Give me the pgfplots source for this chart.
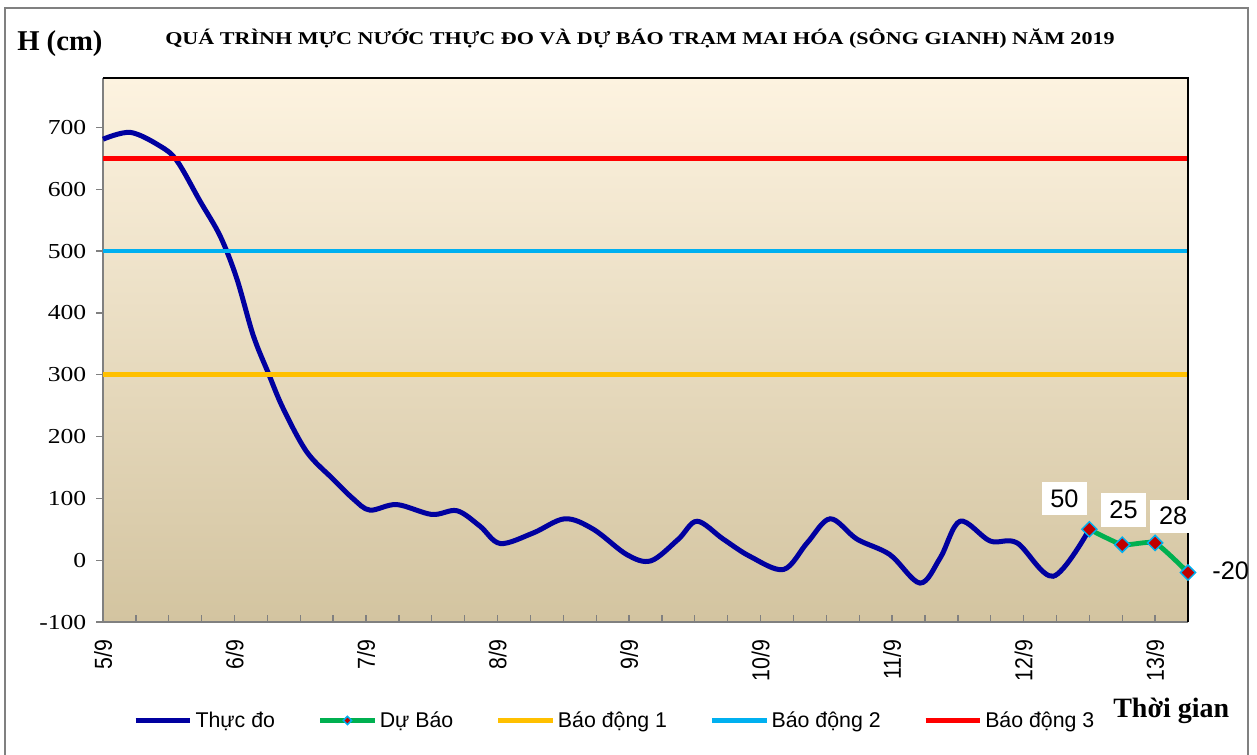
\documentclass[border=0pt]{standalone}
\usepackage{fontspec}
\setmainfont{Liberation Serif}
\newfontfamily\arial{Liberation Sans}
\usepackage{graphicx}
\usepackage{pgfplots}
\pgfplotsset{compat=1.18}
\definecolor{obs}{RGB}{0,0,160}
\definecolor{fc}{RGB}{0,176,80}
\definecolor{bdone}{RGB}{255,192,0}
\definecolor{bdtwo}{RGB}{0,176,240}
\definecolor{bdthree}{RGB}{255,0,0}
\definecolor{mk}{RGB}{192,0,0}
\definecolor{bgtop}{RGB}{253,243,224}
\definecolor{bgbot}{RGB}{211,196,160}
\definecolor{framegray}{RGB}{128,128,128}
\newcommand\yl[1]{\scalebox{1.2}[1]{#1}}
\newcommand\xl[1]{\scalebox{1}[1.15]{#1}}
\pgfplotsset{
  linelegend/.style={legend image code/.code={\draw[##1,mark=none] (0pt,0pt) -- (41pt,0pt);}},
  fclegend/.style={legend image code/.code={\draw[##1,mark=none] (0pt,0pt) -- (41pt,0pt); \draw[##1,mark size=2.2pt] plot coordinates {(20.5pt,0pt)};}},
}
\begin{document}
\begin{tikzpicture}
\useasboundingbox (0,0) rectangle (942.75pt,-565.5pt);
\draw[framegray, line width=1.2pt] (3.75pt,-620pt) -- (3.75pt,-6pt) -- (936pt,-6pt) -- (936pt,-620pt);
\node[anchor=base, font=\bfseries\fontsize{13.5}{14}\selectfont] at (480pt,-33pt)
  {\resizebox{712pt}{\height}{QUÁ TRÌNH MỰC NƯỚC THỰC ĐO VÀ DỰ BÁO TRẠM MAI HÓA (SÔNG GIANH) NĂM 2019}};
\node[anchor=base west, inner sep=0pt, font=\bfseries\fontsize{21.5}{22}\selectfont] at (12.75pt,-37.5pt) {H (cm)};
\node[anchor=base west, inner sep=0pt, font=\bfseries\fontsize{21}{22}\selectfont] at (834.75pt,-537.75pt) {Thời gian};
\begin{axis}[
  at={(77.25pt,-466.5pt)}, anchor=south west,
  scale only axis, width=813.75pt, height=408pt,
  xmin=0, xmax=198, ymin=-100, ymax=780,
  clip=false,
  axis x line*=bottom, axis y line*=left,
  axis line style={draw=framegray, line width=1.3pt, -},
  axis background/.style={top color=bgtop, bottom color=bgbot},
  xtick={0,24,...,192},
  xticklabels={\xl{5/9},\xl{6/9},\xl{7/9},\xl{8/9},\xl{9/9},\xl{10/9},\xl{11/9},\xl{12/9},\xl{13/9}},
  minor x tick num=3,
  xtick align=inside, ytick align=outside,
  major tick length=5pt, minor tick length=5pt,
  tick style={draw=framegray, line width=1pt},
  ytick={-100,0,100,200,300,400,500,600,700},
  yticklabels={\yl{-100},\yl{0},\yl{100},\yl{200},\yl{300},\yl{400},\yl{500},\yl{600},\yl{700}},
  yticklabel style={font=\fontsize{16}{16}\selectfont, xshift=-4pt},
  xticklabel style={yshift=-10pt, rotate=90, anchor=east, font=\arial\fontsize{16}{16}\selectfont},
  legend columns=5,
  legend style={at={(0.472,-0.181)}, anchor=center, draw=none, fill=none,
    font=\arial\fontsize{16}{16}\selectfont,
    /tikz/every even column/.append style={column sep=30pt}},
  linelegend,
]
\addplot[obs, line width=3.75pt, smooth, tension=0.55] coordinates {
(0,681)(5,692)(10.4,670)(13.5,646)(17.7,581)(21.4,524)(24.4,456)(27.4,364)(30.2,302)(32.9,245)(37.2,175)(42,131)(45.7,99)(48.7,81)(53.6,90)(60,74)(64.6,80)(68.8,55)(72.5,27)(78.5,44)(84.3,67)(89.5,50)(95.6,9)(100,-1)(105,34)(108.4,63)(113.2,34)(118.1,6)(124.2,-15)(128.5,28)(132.7,67)(137.6,34)(143.6,9)(149.1,-37)(152.8,4)(156.4,63)(161.9,31)(166.8,28)(173.4,-26)(180,50)
};
\addlegendentry{Thực đo}
\addplot[fc, line width=3.6pt, smooth, tension=0.3, mark=square*, mark size=4pt,
  mark options={rotate=45, fill=mk, draw=bdtwo, line width=1.1pt, solid}, fclegend]
  coordinates {(180,50)(186,25)(192,28)(198,-20)};
\addlegendentry{Dự Báo}
\addplot[bdone, line width=3.4pt] coordinates {(0,300)(198,300)};
\addlegendentry{Báo động 1}
\addplot[bdtwo, line width=3.4pt] coordinates {(0,500)(198,500)};
\addlegendentry{Báo động 2}
\addplot[bdthree, line width=3.4pt] coordinates {(0,650)(198,650)};
\addlegendentry{Báo động 3}
\draw[black, line width=1pt] (rel axis cs:0,1) -- (rel axis cs:1,1) -- (rel axis cs:1,0);
\tikzset{lab/.style={fill=white, font=\arial\fontsize{19}{19}\selectfont, minimum width=34pt, minimum height=25pt, inner sep=0pt}}
\node[lab] at ([xshift=-18.75pt,yshift=23.25pt]axis cs:180,50) {50};
\node[lab] at ([xshift=1pt,yshift=26pt]axis cs:186,25) {25};
\node[lab] at ([xshift=13.5pt,yshift=20pt]axis cs:192,28) {28};
\node[font=\arial\fontsize{19}{19}\selectfont, inner sep=0pt] at ([xshift=32pt,yshift=1pt]axis cs:198,-20) {-20};
\end{axis}
\end{tikzpicture}
\end{document}
